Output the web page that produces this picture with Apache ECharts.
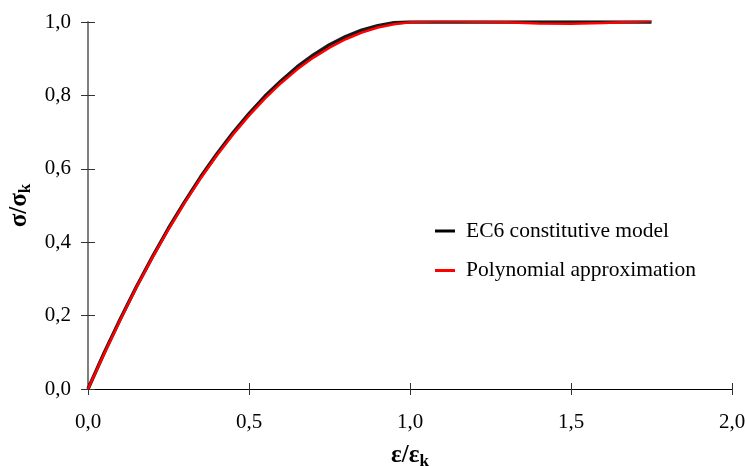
<!DOCTYPE html>
<html>
<head>
<meta charset="utf-8">
<script src="https://cdn.jsdelivr.net/npm/echarts@6/dist/echarts.min.js"></script>
<style>
html,body{margin:0;padding:0;background:#fff;}
#chart{width:745px;height:466px;}
</style>
</head>
<body>
<div id="chart"></div>
<script>
// Normalised strain ε/εk and stress σ/σk
const modelStrain = [0, 0.05, 0.1, 0.15, 0.2, 0.25, 0.3, 0.35, 0.4, 0.45, 0.5, 0.55, 0.6, 0.65, 0.7, 0.75, 0.8, 0.85, 0.9, 0.95, 1.0, 1.25, 1.5, 1.75];
const modelStress = [0, 0.098, 0.19, 0.278, 0.36, 0.438, 0.51, 0.578, 0.64, 0.698, 0.75, 0.798, 0.84, 0.878, 0.91, 0.938, 0.96, 0.978, 0.99, 0.998, 1.0, 1.0, 1.0, 1.0];

const polyStrain = [0, 0.05, 0.1, 0.15, 0.2, 0.25, 0.3, 0.35, 0.4, 0.45, 0.5, 0.55, 0.6, 0.65, 0.7, 0.75, 0.8, 0.85, 0.9, 0.95, 1.0, 1.05, 1.1, 1.2, 1.3, 1.4, 1.5, 1.6, 1.7, 1.75];
const polyStress = [0, 0.095, 0.188, 0.276, 0.358, 0.435, 0.507, 0.574, 0.636, 0.693, 0.745, 0.792, 0.834, 0.871, 0.903, 0.930, 0.953, 0.971, 0.985, 0.994, 0.999, 1.001, 1.002, 1.001, 0.999, 0.996, 0.995, 0.997, 1.001, 1.003];

const xTicks = [0, 0.5, 1.0, 1.5, 2.0];
const yTicks = [0, 0.2, 0.4, 0.6, 0.8, 1.0];

const seriesNames = ['EC6 constitutive model', 'Polynomial approximation'];

const pairs = (xs, ys) => xs.map((x, i) => [x, ys[i]]);
const comma = (v, d) => v.toFixed(d).replace('.', ',');

const serif = 'Liberation Serif, Times New Roman, serif';

const nameRich = {
  a: {fontFamily: serif, fontWeight: 'bold', fontSize: 25, color: '#000'},
  s: {fontFamily: serif, fontWeight: 'bold', fontSize: 17, color: '#000', verticalAlign: 'bottom', padding: [12, 0, 0, 0]}
};

const chart = echarts.init(document.getElementById('chart'), null, {renderer: 'canvas'});

const xBase = {
  type: 'value', min: xTicks[0], max: xTicks[xTicks.length - 1], interval: 0.5,
  splitLine: {show: false}
};
const yBase = {
  type: 'value', min: yTicks[0], max: yTicks[yTicks.length - 1], interval: 0.2,
  splitLine: {show: false}
};

chart.setOption({
  animation: false,
  backgroundColor: '#ffffff',
  grid: {left: 88, right: 13, top: 22, bottom: 77, containLabel: false, outerBoundsMode: 'none'},
  legend: {
    orient: 'vertical',
    left: 430, top: 215,
    itemWidth: 20, itemHeight: 3, itemGap: 17.5,
    icon: 'rect',
    textStyle: {fontFamily: serif, fontSize: 21.5, color: '#000', padding: [0, 0, 0, 6]},
    data: seriesNames
  },
  xAxis: [
    Object.assign({}, xBase, {
      position: 'bottom',
      axisLine: {lineStyle: {color: '#000', width: 1}},
      axisTick: {length: 6, lineStyle: {color: '#333', width: 1}},
      axisLabel: {margin: 23, fontFamily: serif, fontSize: 21, color: '#000',
        formatter: v => comma(v, 1)},
      name: '{a|ε/ε}{s|k}', nameLocation: 'middle', nameGap: 52,
      nameTextStyle: {rich: nameRich}
    }),
    Object.assign({}, xBase, {
      position: 'bottom',
      axisLine: {show: false},
      axisTick: {inside: true, length: 6, lineStyle: {color: '#333', width: 1}},
      axisLabel: {show: false}
    })
  ],
  yAxis: [
    Object.assign({}, yBase, {
      position: 'left',
      axisLine: {lineStyle: {color: '#808080', width: 2}},
      axisTick: {length: 7, lineStyle: {color: '#333', width: 1}},
      axisLabel: {margin: 17, fontFamily: serif, fontSize: 21, color: '#000',
        formatter: v => comma(v, 1)},
      name: '{a|σ/σ}{s|k}', nameLocation: 'middle', nameGap: 50, nameRotate: 90,
      nameTextStyle: {rich: nameRich}
    }),
    Object.assign({}, yBase, {
      position: 'left',
      axisLine: {show: false},
      axisTick: {inside: true, length: 7, lineStyle: {color: '#333', width: 1}},
      axisLabel: {show: false}
    })
  ],
  series: [
    {
      name: seriesNames[0], type: 'line', data: pairs(modelStrain, modelStress),
      showSymbol: false, symbol: 'none', smooth: false,
      lineStyle: {color: '#1a1a1a', width: 3.5}, itemStyle: {color: '#000'}, z: 2
    },
    {
      name: seriesNames[1], type: 'line', data: pairs(polyStrain, polyStress),
      showSymbol: false, symbol: 'none', smooth: false,
      lineStyle: {color: '#ff0000', width: 2.5}, itemStyle: {color: '#ff0000'}, z: 3
    }
  ]
});
</script>
</body>
</html>
